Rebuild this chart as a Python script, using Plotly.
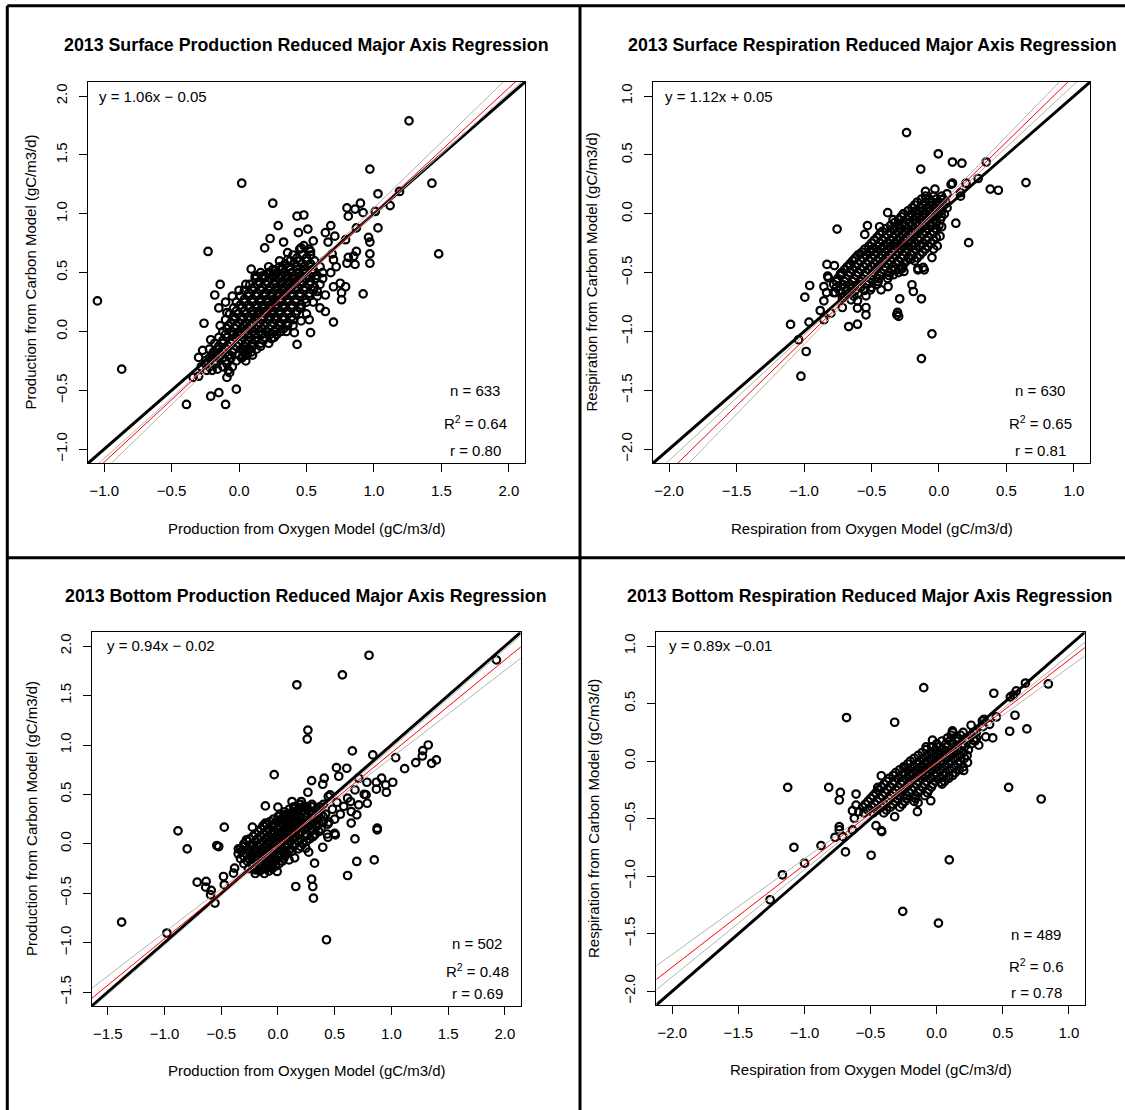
import plotly.graph_objects as go

W, H = 1125, 1110
FONT = "Liberation Sans, Arial, Helvetica, sans-serif"

# ---------------- DATA ----------------
titles = ["2013 Surface Production Reduced Major Axis Regression",
          "2013 Surface Respiration Reduced Major Axis Regression",
          "2013 Bottom Production Reduced Major Axis Regression",
          "2013 Bottom Respiration Reduced Major Axis Regression"]
x_titles = ["Production from Oxygen Model (gC/m3/d)", "Respiration from Oxygen Model (gC/m3/d)",
            "Production from Oxygen Model (gC/m3/d)", "Respiration from Oxygen Model (gC/m3/d)"]
y_titles = ["Production from Carbon Model (gC/m3/d)", "Respiration from Carbon Model (gC/m3/d)",
            "Production from Carbon Model (gC/m3/d)", "Respiration from Carbon Model (gC/m3/d)"]
equations = ["y = 1.06x \u2212 0.05", "y = 1.12x + 0.05", "y = 0.94x \u2212 0.02", "y = 0.89x \u22120.01"]
n_values = [633, 630, 502, 489]
r2_values = ["0.64", "0.65", "0.48", "0.6"]
r_values = ["0.80", "0.81", "0.69", "0.78"]

# regression lines (slope, intercept): red RMA fit, two grey confidence lines
red_fit = [(1.06, -0.05), (1.12, 0.05), (0.94, -0.02), (0.89, -0.01)]
grey_lo = [(1.115, -0.064), (1.18, 0.068), (0.883, -0.012), (0.8315, -0.017)]
grey_hi = [(1.035, -0.044), (1.065, 0.0335), (0.997, -0.026), (0.932, -0.011)]

axis_ranges = [(-1.12, 2.12), (-2.12, 1.12), (-1.64, 2.14), (-2.12, 1.12)]
tick_lists = [[-1.0, -0.5, 0.0, 0.5, 1.0, 1.5, 2.0],
              [-2.0, -1.5, -1.0, -0.5, 0.0, 0.5, 1.0],
              [-1.5, -1.0, -0.5, 0.0, 0.5, 1.0, 1.5, 2.0],
              [-2.0, -1.5, -1.0, -0.5, 0.0, 0.5, 1.0]]

# Surface production points (oxygen model, carbon model)
sp_pts = [
 (1.26,1.79),(0.97,1.38),(0.02,1.26),(1.43,1.26),(1.03,1.17),(1.19,1.19),(1.12,1.07),(0.25,1.09),
 (0.80,1.05),(0.90,1.09),(0.86,1.04),(0.92,1.01),(0.81,0.98),(0.43,0.98),(0.48,0.99),(1.01,1.02),
 (0.29,0.90),(0.51,0.87),(0.68,0.90),(0.64,0.84),(0.71,0.81),(0.87,0.88),(1.03,0.88),(0.96,0.80),
 (0.97,0.76),(0.44,0.84),(0.23,0.79),(0.33,0.76),(0.55,0.77),(0.19,0.71),(0.46,0.71),(0.48,0.73),
 (0.66,0.76),(0.79,0.78),(-0.23,0.68),(1.48,0.66),(0.36,0.67),(0.53,0.68),(0.81,0.63),(0.85,0.64),
 (0.87,0.68),(0.80,0.58),(0.86,0.57),(0.97,0.66),(0.97,0.58),(0.69,0.66),(0.70,0.61),(0.36,0.61),
 (0.09,0.53),(0.13,0.47),(0.17,0.47),(0.22,0.49),(0.27,0.52),(0.32,0.54),
 (-1.05,0.26),(-0.87,-0.32),(-0.14,0.40),(-0.18,0.31),(-0.09,0.16),(-0.26,0.07),(-0.21,-0.07),
 (-0.27,-0.16),(-0.30,-0.22),(-0.39,-0.62),(-0.21,-0.55),(-0.15,-0.52),(-0.10,-0.62),(-0.02,-0.49),
 (-0.20,-0.33),(-0.16,-0.32),(-0.08,-0.33),(-0.07,-0.35),(-0.09,-0.39),(-0.30,-0.38),(-0.34,-0.39),
 (-0.24,-0.33),(0.92,0.32),(0.70,0.38),(0.75,0.41),(0.79,0.38),(0.76,0.33),(0.76,0.27),(0.64,0.17),
 (0.70,0.08),(0.52,0.10),(0.46,0.09),(0.41,-0.01),(0.43,-0.11),(0.53,-0.01),(0.24,-0.06),(0.05,-0.15),
 (0.07,-0.16),(0.03,-0.21),(-0.02,-0.25),(-0.07,-0.20),(-0.12,-0.22),(0.12,0.47),(0.18,0.47),
 (0.27,0.48),(0.33,0.50),(0.64,0.31),(0.58,0.34),(0.60,0.20),(0.55,0.25),(0.50,0.15),(0.45,0.20),
 (0.62,0.45),(0.68,0.50),(0.72,0.55),(0.40,0.05),(0.35,0.00),(-0.05,0.30),(0.00,0.35),(0.05,0.40),
 (-0.10,0.25),(-0.15,0.20),
 (-0.28,-0.30),(-0.22,-0.30),(-0.12,-0.30),(-0.05,-0.30),
 (-0.25,-0.25),(-0.18,-0.25),(-0.10,-0.25),(0.05,-0.25),
 (-0.20,-0.20),(-0.14,-0.20),(-0.08,-0.20),(0.00,-0.20),(0.06,-0.20),(0.10,-0.20),
 (-0.22,-0.15),(-0.16,-0.15),(-0.10,-0.15),(-0.04,-0.15),(0.02,-0.15),(0.08,-0.15),(0.13,-0.15),
 (-0.18,-0.10),(-0.12,-0.10),(-0.06,-0.10),(0.00,-0.10),(0.05,-0.10),(0.10,-0.10),(0.16,-0.10),(0.22,-0.10),
 (-0.15,-0.05),(-0.09,-0.05),(-0.03,-0.05),(0.03,-0.05),(0.08,-0.05),(0.13,-0.05),(0.19,-0.05),(0.26,-0.05),
 (-0.12,0.00),(-0.06,0.00),(0.00,0.00),(0.05,0.00),(0.10,0.00),(0.15,0.00),(0.20,0.00),(0.26,0.00),(0.31,0.00),
 (-0.14,0.05),(-0.08,0.05),(-0.02,0.05),(0.04,0.05),(0.09,0.05),(0.14,0.05),(0.19,0.05),(0.24,0.05),(0.30,0.05),(0.36,0.05),
 (-0.10,0.10),(-0.04,0.10),(0.02,0.10),(0.07,0.10),(0.12,0.10),(0.17,0.10),(0.22,0.10),(0.27,0.10),(0.33,0.10),(0.40,0.10),
 (-0.07,0.15),(-0.01,0.15),(0.05,0.15),(0.10,0.15),(0.15,0.15),(0.20,0.15),(0.25,0.15),(0.30,0.15),(0.36,0.15),(0.42,0.15),
 (-0.04,0.20),(0.02,0.20),(0.08,0.20),(0.13,0.20),(0.18,0.20),(0.23,0.20),(0.28,0.20),(0.33,0.20),(0.39,0.20),(0.46,0.20),
 (-0.02,0.25),(0.04,0.25),(0.10,0.25),(0.16,0.25),(0.21,0.25),(0.26,0.25),(0.31,0.25),(0.36,0.25),(0.42,0.25),(0.50,0.25),
 (0.01,0.30),(0.07,0.30),(0.13,0.30),(0.19,0.30),(0.24,0.30),(0.29,0.30),(0.34,0.30),(0.39,0.30),(0.45,0.30),(0.52,0.30),(0.58,0.30),
 (0.04,0.35),(0.10,0.35),(0.16,0.35),(0.22,0.35),(0.27,0.35),(0.32,0.35),(0.37,0.35),(0.42,0.35),(0.48,0.35),(0.55,0.35),
 (0.08,0.40),(0.14,0.40),(0.20,0.40),(0.26,0.40),(0.31,0.40),(0.36,0.40),(0.41,0.40),(0.46,0.40),(0.52,0.40),(0.60,0.40),
 (0.12,0.45),(0.18,0.45),(0.24,0.45),(0.30,0.45),(0.35,0.45),(0.40,0.45),(0.45,0.45),(0.50,0.45),(0.57,0.45),
 (0.16,0.50),(0.22,0.50),(0.28,0.50),(0.34,0.50),(0.39,0.50),(0.44,0.50),(0.49,0.50),(0.55,0.50),(0.62,0.50),
 (0.22,0.55),(0.30,0.55),(0.37,0.55),(0.43,0.55),(0.48,0.55),(0.53,0.55),(0.60,0.55),
 (0.30,0.60),(0.38,0.60),(0.45,0.60),(0.50,0.60),(0.56,0.60),
 (0.40,0.65),(0.47,0.65),(0.53,0.65),(0.45,0.70),(0.52,0.70),
 (-0.25,-0.275),(-0.17,-0.275),(-0.09,-0.275),
 (-0.22,-0.225),(-0.15,-0.225),(-0.06,-0.225),(0.02,-0.225),
 (-0.19,-0.175),(-0.12,-0.175),(-0.05,-0.175),(0.03,-0.175),(0.09,-0.175),
 (-0.15,-0.125),(-0.08,-0.125),(-0.02,-0.125),(0.04,-0.125),(0.10,-0.125),(0.16,-0.125),
 (-0.12,-0.075),(-0.05,-0.075),(0.02,-0.075),(0.07,-0.075),(0.12,-0.075),(0.18,-0.075),
 (-0.10,-0.025),(-0.04,-0.025),(0.02,-0.025),(0.07,-0.025),(0.12,-0.025),(0.17,-0.025),(0.23,-0.025),(0.28,-0.025),
 (-0.09,0.025),(-0.03,0.025),(0.02,0.025),(0.07,0.025),(0.12,0.025),(0.17,0.025),(0.22,0.025),(0.28,0.025),(0.33,0.025),
 (-0.06,0.075),(0.00,0.075),(0.05,0.075),(0.10,0.075),(0.15,0.075),(0.20,0.075),(0.25,0.075),(0.30,0.075),(0.36,0.075),
 (-0.04,0.125),(0.02,0.125),(0.07,0.125),(0.12,0.125),(0.17,0.125),(0.22,0.125),(0.27,0.125),(0.33,0.125),(0.39,0.125),
 (-0.02,0.175),(0.04,0.175),(0.10,0.175),(0.15,0.175),(0.20,0.175),(0.25,0.175),(0.30,0.175),(0.36,0.175),(0.43,0.175),
 (0.01,0.225),(0.07,0.225),(0.13,0.225),(0.18,0.225),(0.23,0.225),(0.28,0.225),(0.33,0.225),(0.39,0.225),(0.46,0.225),
 (0.04,0.275),(0.10,0.275),(0.16,0.275),(0.21,0.275),(0.26,0.275),(0.31,0.275),(0.36,0.275),(0.42,0.275),(0.49,0.275),
 (0.07,0.325),(0.13,0.325),(0.19,0.325),(0.24,0.325),(0.29,0.325),(0.34,0.325),(0.39,0.325),(0.45,0.325),(0.52,0.325),
 (0.11,0.375),(0.17,0.375),(0.23,0.375),(0.28,0.375),(0.33,0.375),(0.38,0.375),(0.43,0.375),(0.49,0.375),(0.56,0.375),
 (0.15,0.425),(0.21,0.425),(0.27,0.425),(0.32,0.425),(0.37,0.425),(0.42,0.425),(0.47,0.425),(0.53,0.425),
 (0.19,0.475),(0.25,0.475),(0.31,0.475),(0.36,0.475),(0.41,0.475),(0.46,0.475),(0.52,0.475),(0.58,0.475),
 (0.25,0.525),(0.32,0.525),(0.38,0.525),(0.43,0.525),(0.48,0.525),(0.54,0.525),
 (0.34,0.575),(0.41,0.575),(0.47,0.575),(0.53,0.575),(0.43,0.625),(0.50,0.625),
]

# Surface respiration points
sr_pts = [
 (-0.24,0.69),(-0.005,0.51),(0.10,0.44),(0.17,0.43),(0.35,0.44),(-0.135,0.38),(0.645,0.265),(0.38,0.21),
 (0.44,0.20),(0.29,0.30),(0.09,0.25),(0.10,0.26),(0.20,0.26),(0.16,0.15),(0.16,0.18),(-0.10,0.19),
 (0.125,-0.08),(0.22,-0.245),(0.02,-0.11),(-0.755,-0.13),(-0.53,-0.10),(-0.55,-0.175),(-0.44,-0.11),
 (-0.38,0.01),(-0.265,0.0),(-0.34,-0.05),(-0.83,-0.43),(-0.775,-0.44),(-0.825,-0.53),(-0.73,-0.51),
 (-0.66,-0.44),(-0.585,-0.34),(-0.49,-0.30),(-0.156,-0.465),(-0.117,-0.456),(-0.052,-0.372),
 (-0.013,-0.273),(-0.04,-0.30),(0.008,-0.19),(-0.208,-0.386),(-0.273,-0.465),(-0.325,-0.47),
 (-1.10,-0.94),(-0.963,-0.92),(-1.04,-1.07),(-0.984,-1.17),(-1.023,-1.38),(-0.13,-1.23),(-0.052,-1.02),
 (-0.312,-0.858),(-0.307,-0.838),(-0.299,-0.872),(-0.291,-0.722),(-0.20,-0.603),(-0.19,-0.66),
 (-0.13,-0.722),(-0.156,-0.476),(-0.109,-0.476),(-0.669,-0.958),(-0.604,-0.938),(-0.716,-0.796),
 (-0.801,-0.844),(-0.88,-0.822),(-0.853,-0.90),(-0.853,-0.739),(-0.994,-0.708),(-0.958,-0.609),
 (-0.853,-0.618),(-0.833,-0.669),(-0.781,-0.669),(-0.768,-0.669),(-0.82,-0.544),(-0.729,-0.518),
 (-0.708,-0.603),(-0.651,-0.731),(-0.604,-0.739),(-0.604,-0.801),(-0.541,-0.697),(-0.541,-0.796),
 (-0.541,-0.858),(-0.507,-0.646),(-0.429,-0.646),(-0.377,-0.618),(-0.338,-0.518),(-0.26,-0.49),
 (-0.716,-0.717),(-0.638,-0.618),(0.02,0.12),(0.06,0.17),(-0.03,0.21),
 (-0.10,0.15),(-0.04,0.15),(0.02,0.15),
 (-0.16,0.10),(-0.10,0.10),(-0.05,0.10),(0.00,0.10),(0.05,0.10),
 (-0.20,0.05),(-0.14,0.05),(-0.09,0.05),(-0.04,0.05),(0.01,0.05),(0.06,0.05),
 (-0.26,0.00),(-0.20,0.00),(-0.15,0.00),(-0.10,0.00),(-0.05,0.00),(0.00,0.00),(0.04,0.00),
 (-0.30,-0.05),(-0.24,-0.05),(-0.19,-0.05),(-0.14,-0.05),(-0.09,-0.05),(-0.04,-0.05),(0.01,-0.05),
 (-0.36,-0.10),(-0.30,-0.10),(-0.25,-0.10),(-0.20,-0.10),(-0.15,-0.10),(-0.10,-0.10),(-0.05,-0.10),(0.00,-0.10),
 (-0.42,-0.15),(-0.36,-0.15),(-0.30,-0.15),(-0.25,-0.15),(-0.20,-0.15),(-0.15,-0.15),(-0.10,-0.15),(-0.04,-0.15),
 (-0.46,-0.20),(-0.40,-0.20),(-0.34,-0.20),(-0.29,-0.20),(-0.24,-0.20),(-0.19,-0.20),(-0.14,-0.20),(-0.08,-0.20),(-0.02,-0.20),
 (-0.50,-0.25),(-0.44,-0.25),(-0.38,-0.25),(-0.33,-0.25),(-0.28,-0.25),(-0.23,-0.25),(-0.18,-0.25),(-0.12,-0.25),(-0.06,-0.25),
 (-0.55,-0.30),(-0.49,-0.30),(-0.43,-0.30),(-0.38,-0.30),(-0.33,-0.30),(-0.28,-0.30),(-0.23,-0.30),(-0.17,-0.30),(-0.10,-0.30),
 (-0.60,-0.35),(-0.54,-0.35),(-0.48,-0.35),(-0.42,-0.35),(-0.37,-0.35),(-0.32,-0.35),(-0.27,-0.35),(-0.21,-0.35),(-0.14,-0.35),
 (-0.64,-0.40),(-0.58,-0.40),(-0.52,-0.40),(-0.46,-0.40),(-0.41,-0.40),(-0.36,-0.40),(-0.30,-0.40),(-0.24,-0.40),(-0.18,-0.40),
 (-0.68,-0.45),(-0.62,-0.45),(-0.56,-0.45),(-0.50,-0.45),(-0.45,-0.45),(-0.40,-0.45),(-0.34,-0.45),(-0.27,-0.45),
 (-0.72,-0.50),(-0.66,-0.50),(-0.60,-0.50),(-0.54,-0.50),(-0.49,-0.50),(-0.43,-0.50),(-0.37,-0.50),(-0.30,-0.50),
 (-0.75,-0.55),(-0.69,-0.55),(-0.63,-0.55),(-0.57,-0.55),(-0.51,-0.55),(-0.45,-0.55),(-0.38,-0.55),
 (-0.78,-0.60),(-0.72,-0.60),(-0.66,-0.60),(-0.60,-0.60),(-0.53,-0.60),(-0.46,-0.60),
 (-0.74,-0.65),(-0.68,-0.65),(-0.62,-0.65),(-0.55,-0.65),(-0.70,-0.70),(-0.63,-0.70),
 (-0.13,0.125),(-0.07,0.125),(-0.02,0.125),(0.03,0.125),
 (-0.18,0.075),(-0.12,0.075),(-0.07,0.075),(-0.02,0.075),(0.03,0.075),
 (-0.23,0.025),(-0.17,0.025),(-0.12,0.025),(-0.07,0.025),(-0.02,0.025),(0.02,0.025),
 (-0.28,-0.025),(-0.22,-0.025),(-0.17,-0.025),(-0.12,-0.025),(-0.07,-0.025),(-0.02,-0.025),(0.02,-0.025),
 (-0.33,-0.075),(-0.27,-0.075),(-0.22,-0.075),(-0.17,-0.075),(-0.12,-0.075),(-0.07,-0.075),(-0.02,-0.075),
 (-0.39,-0.125),(-0.33,-0.125),(-0.28,-0.125),(-0.23,-0.125),(-0.18,-0.125),(-0.13,-0.125),(-0.08,-0.125),(-0.02,-0.125),
 (-0.44,-0.175),(-0.38,-0.175),(-0.32,-0.175),(-0.27,-0.175),(-0.22,-0.175),(-0.17,-0.175),(-0.12,-0.175),(-0.06,-0.175),
 (-0.48,-0.225),(-0.42,-0.225),(-0.36,-0.225),(-0.31,-0.225),(-0.26,-0.225),(-0.21,-0.225),(-0.15,-0.225),(-0.09,-0.225),(-0.04,-0.225),
 (-0.52,-0.275),(-0.46,-0.275),(-0.41,-0.275),(-0.36,-0.275),(-0.31,-0.275),(-0.26,-0.275),(-0.20,-0.275),(-0.14,-0.275),(-0.08,-0.275),
 (-0.57,-0.325),(-0.51,-0.325),(-0.46,-0.325),(-0.40,-0.325),(-0.35,-0.325),(-0.30,-0.325),(-0.25,-0.325),(-0.19,-0.325),(-0.12,-0.325),
 (-0.62,-0.375),(-0.56,-0.375),(-0.50,-0.375),(-0.44,-0.375),(-0.39,-0.375),(-0.34,-0.375),(-0.28,-0.375),(-0.22,-0.375),(-0.16,-0.375),
 (-0.66,-0.425),(-0.60,-0.425),(-0.54,-0.425),(-0.48,-0.425),(-0.43,-0.425),(-0.38,-0.425),(-0.32,-0.425),(-0.26,-0.425),
 (-0.70,-0.475),(-0.64,-0.475),(-0.58,-0.475),(-0.52,-0.475),(-0.47,-0.475),(-0.41,-0.475),(-0.35,-0.475),(-0.29,-0.475),
 (-0.73,-0.525),(-0.67,-0.525),(-0.61,-0.525),(-0.55,-0.525),(-0.50,-0.525),(-0.44,-0.525),(-0.37,-0.525),
 (-0.76,-0.575),(-0.70,-0.575),(-0.64,-0.575),(-0.58,-0.575),(-0.52,-0.575),(-0.45,-0.575),
 (-0.76,-0.625),(-0.70,-0.625),(-0.64,-0.625),(-0.58,-0.625),(-0.50,-0.625),
 (-0.72,-0.675),(-0.66,-0.675),(-0.60,-0.675),
]

# Bottom production points
bp_pts = [
 (1.926,1.861),(0.803,1.908),(0.568,1.71),(0.167,1.609),(0.264,1.151),(0.258,1.06),(-0.033,0.70),
 (0.656,0.94),(0.836,0.90),(1.038,0.872),(1.325,1.0),(1.277,0.943),(1.273,0.889),(1.215,0.822),
 (1.397,0.849),(1.355,0.815),(1.117,0.761),(0.516,0.771),(0.607,0.765),(0.536,0.684),(0.408,0.664),
 (0.395,0.603),(0.297,0.64),(0.264,0.522),(0.914,0.664),(1.012,0.623),(0.95,0.596),(0.956,0.522),
 (0.868,0.623),(0.784,0.623),(0.868,0.553),(0.712,0.664),(0.761,0.502),(0.777,0.495),(0.787,0.411),
 (0.679,0.546),(0.614,0.462),(0.64,0.428),(0.712,0.395),(0.646,0.327),(0.695,0.294),(0.646,0.21),
 (0.875,0.159),(0.46,0.495),(0.444,0.479),(-0.111,0.384),(0.0,0.371),(0.124,0.428),(0.206,0.428),
 (0.14,0.361),(0.206,0.361),(0.255,0.378),(0.059,0.294),(0.042,0.254),(-0.111,0.21),(-0.046,0.193),
 (-0.225,0.169),(-0.131,0.183),(-0.473,0.169),(-0.881,0.132),(0.434,0.10),(0.50,0.106),
 (-1.378,-0.791),(-0.979,-0.902),(0.428,-0.97),(-0.80,-0.05),(-0.539,-0.017),(-0.522,-0.027),
 (-0.712,-0.387),(-0.633,-0.38),(-0.637,-0.438),(-0.588,-0.471),(-0.594,-0.515),(-0.555,-0.599),
 (-0.48,-0.33),(-0.473,-0.414),(-0.392,-0.296),(-0.382,-0.246),(-0.349,-0.05),(-0.278,0.04),
 (-0.202,-0.263),(-0.007,-0.279),(-0.056,-0.229),(0.098,-0.162),(0.147,-0.141),(0.157,-0.431),
 (0.297,-0.357),(0.307,-0.431),(0.313,-0.549),(0.323,-0.195),(0.614,-0.32),(0.695,-0.178),
 (0.849,-0.162),(0.679,0.05),(0.506,0.091),(0.441,0.067),(0.395,-0.034),(0.245,-0.044),(0.271,-0.084),
 (0.875,0.141),(0.32,0.091),(0.55,0.30),(0.50,0.25),(0.58,0.38),(0.48,0.35),(0.52,0.42),(0.42,0.30),(0.45,0.22),
 (0.20,0.40),(0.30,0.40),(0.40,0.40),
 (0.10,0.35),(0.18,0.35),(0.26,0.35),(0.34,0.35),
 (0.02,0.30),(0.10,0.30),(0.17,0.30),(0.24,0.30),(0.31,0.30),(0.38,0.30),
 (-0.04,0.25),(0.03,0.25),(0.10,0.25),(0.16,0.25),(0.22,0.25),(0.28,0.25),(0.35,0.25),
 (-0.10,0.20),(-0.03,0.20),(0.04,0.20),(0.10,0.20),(0.16,0.20),(0.22,0.20),(0.28,0.20),(0.36,0.20),(0.44,0.20),
 (-0.15,0.15),(-0.08,0.15),(-0.01,0.15),(0.05,0.15),(0.11,0.15),(0.17,0.15),(0.23,0.15),(0.30,0.15),(0.38,0.15),
 (-0.20,0.10),(-0.13,0.10),(-0.06,0.10),(0.00,0.10),(0.06,0.10),(0.12,0.10),(0.18,0.10),(0.25,0.10),(0.33,0.10),
 (-0.25,0.05),(-0.18,0.05),(-0.11,0.05),(-0.05,0.05),(0.01,0.05),(0.07,0.05),(0.13,0.05),(0.20,0.05),(0.28,0.05),
 (-0.30,0.00),(-0.23,0.00),(-0.16,0.00),(-0.10,0.00),(-0.04,0.00),(0.02,0.00),(0.08,0.00),(0.15,0.00),(0.22,0.00),
 (-0.33,-0.05),(-0.26,-0.05),(-0.20,-0.05),(-0.14,-0.05),(-0.08,-0.05),(-0.02,-0.05),(0.04,-0.05),(0.11,-0.05),(0.18,-0.05),
 (-0.35,-0.10),(-0.28,-0.10),(-0.22,-0.10),(-0.16,-0.10),(-0.10,-0.10),(-0.04,-0.10),(0.02,-0.10),(0.08,-0.10),
 (-0.33,-0.15),(-0.26,-0.15),(-0.20,-0.15),(-0.14,-0.15),(-0.08,-0.15),(-0.02,-0.15),(0.05,-0.15),
 (-0.30,-0.20),(-0.23,-0.20),(-0.17,-0.20),(-0.11,-0.20),(-0.05,-0.20),(0.01,-0.20),
 (-0.26,-0.25),(-0.19,-0.25),(-0.12,-0.25),(-0.05,-0.25),(-0.20,-0.30),(-0.12,-0.30),
 (0.14,0.375),(0.22,0.375),(0.30,0.375),(0.37,0.375),
 (0.06,0.325),(0.14,0.325),(0.21,0.325),(0.28,0.325),(0.35,0.325),
 (0.00,0.275),(0.07,0.275),(0.13,0.275),(0.19,0.275),(0.25,0.275),(0.32,0.275),(0.40,0.275),
 (-0.07,0.225),(0.00,0.225),(0.07,0.225),(0.13,0.225),(0.19,0.225),(0.25,0.225),(0.32,0.225),(0.40,0.225),
 (-0.12,0.175),(-0.05,0.175),(0.02,0.175),(0.08,0.175),(0.14,0.175),(0.20,0.175),(0.27,0.175),(0.34,0.175),
 (-0.17,0.125),(-0.10,0.125),(-0.03,0.125),(0.03,0.125),(0.09,0.125),(0.15,0.125),(0.21,0.125),(0.29,0.125),(0.36,0.125),
 (-0.22,0.075),(-0.15,0.075),(-0.08,0.075),(-0.02,0.075),(0.04,0.075),(0.10,0.075),(0.16,0.075),(0.24,0.075),(0.31,0.075),
 (-0.27,0.025),(-0.20,0.025),(-0.13,0.025),(-0.07,0.025),(-0.01,0.025),(0.05,0.025),(0.11,0.025),(0.18,0.025),(0.25,0.025),
 (-0.30,-0.025),(-0.23,-0.025),(-0.17,-0.025),(-0.11,-0.025),(-0.05,-0.025),(0.01,-0.025),(0.07,-0.025),(0.14,-0.025),(0.20,-0.025),
 (-0.32,-0.075),(-0.25,-0.075),(-0.19,-0.075),(-0.13,-0.075),(-0.07,-0.075),(-0.01,-0.075),(0.05,-0.075),(0.12,-0.075),
 (-0.30,-0.125),(-0.24,-0.125),(-0.18,-0.125),(-0.12,-0.125),(-0.06,-0.125),(0.00,-0.125),(0.06,-0.125),
 (-0.27,-0.175),(-0.20,-0.175),(-0.14,-0.175),(-0.08,-0.175),(-0.02,-0.175),(0.04,-0.175),
 (-0.22,-0.225),(-0.15,-0.225),(-0.09,-0.225),(-0.02,-0.225),(-0.16,-0.275),(-0.08,-0.275),
]

# Bottom respiration points
br_pts = [
 (-0.098,0.639),(-0.682,0.379),(-0.318,0.338),(0.432,0.59),(0.671,0.679),(0.844,0.671),(0.602,0.61),
 (0.557,0.558),(0.58,0.575),(0.592,0.399),(0.682,0.28),(0.552,0.26),(0.451,0.384),(0.371,0.211),
 (0.424,0.202),(0.345,0.35),(0.358,0.364),(0.26,0.312),(0.119,0.263),(0.544,-0.228),(0.79,-0.329),
 (-1.127,-0.228),(-0.817,-0.228),(-0.729,-0.272),(-0.737,-0.338),(-0.61,-0.286),(-0.419,-0.127),
 (-0.446,-0.228),(-0.637,-0.431),(-0.61,-0.382),(-0.623,-0.497),(-0.589,-0.439),(-0.737,-0.569),
 (-0.459,-0.561),(-0.419,-0.604),(-0.318,-0.483),(-0.146,-0.439),(-0.141,-0.361),(-0.045,-0.344),
 (0.034,-0.185),(0.204,-0.081),(0.233,-0.012),(0.093,-0.13),(-0.032,0.182),(-0.08,0.124),
 (-0.244,-0.058),(0.318,0.139),
 (-1.26,-1.205),(-1.167,-0.988),(-1.08,-0.749),(-1.0,-0.887),(-0.875,-0.734),(-0.769,-0.662),
 (-0.711,-0.656),(-0.69,-0.789),(-0.496,-0.818),(-0.416,-0.613),(-0.257,-1.306),(0.013,-1.408),
 (0.095,-0.858),(-0.737,-0.598),(-0.637,-0.598),(0.30,0.25),(0.35,0.30),(0.40,0.32),(0.28,0.18),
 (0.12,0.25),(0.20,0.25),(0.28,0.25),
 (0.08,0.20),(0.15,0.20),(0.22,0.20),(0.30,0.20),
 (0.00,0.15),(0.07,0.15),(0.13,0.15),(0.19,0.15),(0.26,0.15),
 (-0.08,0.10),(-0.01,0.10),(0.05,0.10),(0.11,0.10),(0.17,0.10),(0.24,0.10),
 (-0.14,0.05),(-0.07,0.05),(-0.01,0.05),(0.05,0.05),(0.11,0.05),(0.17,0.05),(0.23,0.05),
 (-0.20,0.00),(-0.13,0.00),(-0.07,0.00),(-0.01,0.00),(0.05,0.00),(0.11,0.00),(0.18,0.00),
 (-0.25,-0.05),(-0.18,-0.05),(-0.12,-0.05),(-0.06,-0.05),(0.00,-0.05),(0.06,-0.05),(0.13,-0.05),(0.20,-0.05),
 (-0.31,-0.10),(-0.24,-0.10),(-0.18,-0.10),(-0.12,-0.10),(-0.06,-0.10),(0.00,-0.10),(0.07,-0.10),(0.14,-0.10),
 (-0.36,-0.15),(-0.29,-0.15),(-0.23,-0.15),(-0.17,-0.15),(-0.11,-0.15),(-0.05,-0.15),(0.02,-0.15),(0.09,-0.15),
 (-0.40,-0.20),(-0.33,-0.20),(-0.27,-0.20),(-0.21,-0.20),(-0.15,-0.20),(-0.09,-0.20),(-0.03,-0.20),(0.04,-0.20),
 (-0.44,-0.25),(-0.37,-0.25),(-0.31,-0.25),(-0.25,-0.25),(-0.19,-0.25),(-0.13,-0.25),(-0.06,-0.25),
 (-0.48,-0.30),(-0.41,-0.30),(-0.35,-0.30),(-0.29,-0.30),(-0.23,-0.30),(-0.16,-0.30),(-0.09,-0.30),
 (-0.52,-0.35),(-0.45,-0.35),(-0.38,-0.35),(-0.31,-0.35),(-0.24,-0.35),(-0.17,-0.35),
 (-0.56,-0.40),(-0.49,-0.40),(-0.42,-0.40),(-0.35,-0.40),(-0.28,-0.40),
 (-0.55,-0.45),(-0.48,-0.45),(-0.40,-0.45),
 (0.11,0.225),(0.18,0.225),(0.26,0.225),
 (0.04,0.175),(0.10,0.175),(0.16,0.175),(0.23,0.175),(0.29,0.175),
 (-0.04,0.125),(0.02,0.125),(0.08,0.125),(0.14,0.125),(0.21,0.125),
 (-0.11,0.075),(-0.04,0.075),(0.02,0.075),(0.08,0.075),(0.14,0.075),(0.20,0.075),
 (-0.17,0.025),(-0.10,0.025),(-0.04,0.025),(0.02,0.025),(0.08,0.025),(0.14,0.025),(0.21,0.025),
 (-0.22,-0.025),(-0.15,-0.025),(-0.09,-0.025),(-0.03,-0.025),(0.03,-0.025),(0.09,-0.025),(0.16,-0.025),
 (-0.28,-0.075),(-0.21,-0.075),(-0.15,-0.075),(-0.09,-0.075),(-0.03,-0.075),(0.03,-0.075),(0.10,-0.075),(0.17,-0.075),
 (-0.33,-0.125),(-0.26,-0.125),(-0.20,-0.125),(-0.14,-0.125),(-0.08,-0.125),(-0.02,-0.125),(0.05,-0.125),(0.12,-0.125),
 (-0.38,-0.175),(-0.32,-0.175),(-0.26,-0.175),(-0.20,-0.175),(-0.14,-0.175),(-0.08,-0.175),(-0.01,-0.175),(0.06,-0.175),
 (-0.42,-0.225),(-0.35,-0.225),(-0.29,-0.225),(-0.23,-0.225),(-0.17,-0.225),(-0.11,-0.225),(-0.04,-0.225),
 (-0.46,-0.275),(-0.39,-0.275),(-0.33,-0.275),(-0.27,-0.275),(-0.21,-0.275),(-0.14,-0.275),(-0.07,-0.275),
 (-0.50,-0.325),(-0.43,-0.325),(-0.36,-0.325),(-0.30,-0.325),(-0.23,-0.325),(-0.16,-0.325),
 (-0.54,-0.375),(-0.47,-0.375),(-0.40,-0.375),(-0.33,-0.375),(-0.26,-0.375),
 (-0.52,-0.425),(-0.45,-0.425),(-0.38,-0.425),
]

all_points = [sp_pts, sr_pts, bp_pts, br_pts]

# ---------------- LAYOUT (pixel geometry of each plot box: left, top, right, bottom) ----------------
boxes = [(88, 82, 525, 463.3), (652.9, 82, 1090.1, 463.3),
         (91.9, 632.3, 520.7, 1006), (656.4, 632.3, 1084.8, 1005)]
title_pos = [(306.5, 45), (872, 45), (306, 596), (870, 596)]
xtitle_pos = [(306.5, 528), (872, 528), (306.5, 1070), (870.8, 1069)]
ytitle_pos = [(30, 272.5), (591, 272.5), (31, 819), (593, 819)]
eq_pos = [(97, 96), (662.7, 96), (105, 645.7), (667, 645.7)]
stat_x = [475, 1040, 477, 1036]
stat_y = [(391, 422, 450), (391, 422, 450), (943, 970, 993), (934, 965, 992)]


def fx(px):
    return px / W


def fy(py):
    return 1 - py / H


fig = go.Figure()
annotations = []
shapes = []

for i in range(4):
    sfx = "" if i == 0 else str(i + 1)
    xa, ya = "x" + sfx, "y" + sfx
    lo, hi = axis_ranges[i]
    pts = all_points[i]
    fig.add_trace(go.Scatter(
        x=[p[0] for p in pts], y=[p[1] for p in pts], mode="markers",
        marker=dict(symbol="circle-open", size=7.5, color="black", line=dict(width=2.2)),
        xaxis=xa, yaxis=ya, showlegend=False, hoverinfo="skip"))
    # 1:1 line
    fig.add_trace(go.Scatter(x=[lo, hi], y=[lo, hi], mode="lines",
                             line=dict(color="black", width=3), xaxis=xa, yaxis=ya,
                             showlegend=False, hoverinfo="skip"))
    for (m, b), col, w in [(grey_lo[i], "#b4b4b4", 1), (grey_hi[i], "#b4b4b4", 1), (red_fit[i], "#ff0000", 1)]:
        x0, x1 = lo - 1, hi + 1
        fig.add_trace(go.Scatter(x=[x0, x1], y=[m * x0 + b, m * x1 + b], mode="lines",
                                 line=dict(color=col, width=w), xaxis=xa, yaxis=ya,
                                 showlegend=False, hoverinfo="skip"))
    L, T, R, B = boxes[i]
    common = dict(range=[lo, hi], showgrid=False, zeroline=False, showline=True, mirror=True,
                  linecolor="black", linewidth=1, ticks="outside", ticklen=8, tickwidth=1,
                  tickcolor="black", tickvals=tick_lists[i],
                  ticktext=[("\u2212" if v < 0 else "") + "%.1f" % abs(v) for v in tick_lists[i]],
                  tickfont=dict(family=FONT, size=15, color="black"), fixedrange=True)
    fig.update_layout(**{
        "xaxis" + sfx: dict(domain=[fx(L), fx(R)], anchor=ya, ticklabelstandoff=6, **common),
        "yaxis" + sfx: dict(domain=[fy(B), fy(T)], anchor=xa, tickangle=-90, ticklabelstandoff=6, **common),
    })
    # text
    annotations.append(dict(x=fx(title_pos[i][0]), y=fy(title_pos[i][1]), xref="paper", yref="paper",
                            text="<b>" + titles[i] + "</b>", showarrow=False,
                            font=dict(family=FONT, size=17.8, color="black"), xanchor="center", yanchor="middle"))
    annotations.append(dict(x=fx(xtitle_pos[i][0]), y=fy(xtitle_pos[i][1]), xref="paper", yref="paper",
                            text=x_titles[i], showarrow=False,
                            font=dict(family=FONT, size=15, color="black"), xanchor="center", yanchor="middle"))
    annotations.append(dict(x=fx(ytitle_pos[i][0]), y=fy(ytitle_pos[i][1]), xref="paper", yref="paper",
                            text=y_titles[i], showarrow=False, textangle=-90,
                            font=dict(family=FONT, size=15, color="black"), xanchor="center", yanchor="middle"))
    annotations.append(dict(x=fx(eq_pos[i][0]), y=fy(eq_pos[i][1]), xref="paper", yref="paper",
                            text=equations[i], showarrow=False,
                            font=dict(family=FONT, size=15, color="black"), xanchor="left", yanchor="middle"))
    stat_texts = ["n = %d" % n_values[i], "R<sup>2</sup> = " + r2_values[i], "r = " + r_values[i]]
    for t, sy in zip(stat_texts, stat_y[i]):
        annotations.append(dict(x=fx(stat_x[i]), y=fy(sy), xref="paper", yref="paper", text=t,
                                showarrow=False, font=dict(family=FONT, size=15, color="black"),
                                xanchor="center", yanchor="middle"))

# panel frame lines
for (x0, y0, x1, y1) in [(7.3, 5.7, 1125, 5.7), (7.3, 5.7, 7.3, 1110), (580, 5.7, 580, 1110),
                         (7.3, 557.7, 1125, 557.7)]:
    shapes.append(dict(type="line", xref="paper", yref="paper", x0=fx(x0), y0=fy(y0), x1=fx(x1), y1=fy(y1),
                       line=dict(color="black", width=3)))

fig.update_layout(width=W, height=H, margin=dict(l=0, r=0, t=0, b=0),
                  paper_bgcolor="white", plot_bgcolor="white",
                  annotations=annotations, shapes=shapes, showlegend=False,
                  font=dict(family=FONT, color="black"))

fig.write_html("out.html")
